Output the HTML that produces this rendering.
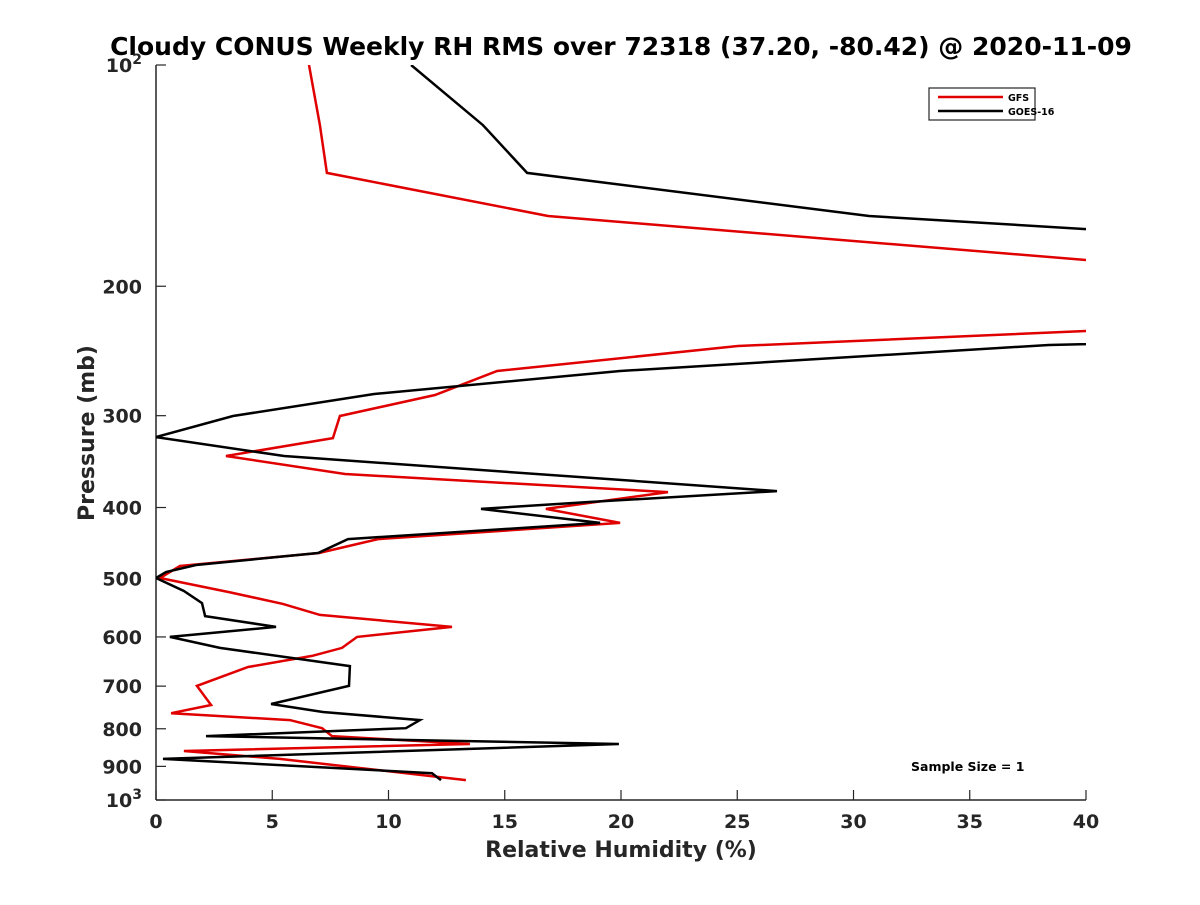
<!DOCTYPE html>
<html><head><meta charset="utf-8"><style>
body{margin:0;background:#fff;}
svg text{font-family:"DejaVu Sans","Liberation Sans",sans-serif;font-weight:bold;}
</style></head><body>
<svg id="chart" width="1200" height="900" xmlns="http://www.w3.org/2000/svg">
<defs><clipPath id="plotclip"><rect x="156" y="65" width="930" height="735"/></clipPath></defs>
<text x="621" y="55" font-size="25" text-anchor="middle" fill="#000">Cloudy CONUS Weekly RH RMS over 72318 (37.20, -80.42) @ 2020-11-09</text>
<g id="axes"></g>
<g id="series" clip-path="url(#plotclip)"></g>
<text x="621" y="857" font-size="22" text-anchor="middle" fill="#262626">Relative Humidity (%)</text>
<text transform="translate(94,433) rotate(-90)" font-size="22" text-anchor="middle" fill="#262626">Pressure (mb)</text>
<g>
<rect x="929" y="88" width="106" height="32" fill="#fff" stroke="#262626" stroke-width="1.2"/>
<line x1="938" y1="97" x2="1003" y2="97" stroke="#e00000" stroke-width="2.5"/>
<text x="1008" y="101" font-size="9.5">GFS</text>
<line x1="938" y1="111" x2="1003" y2="111" stroke="#000" stroke-width="2.5"/>
<text x="1008" y="115" font-size="9.5">GOES-16</text>
</g>
<text x="911" y="771" font-size="12.5">Sample Size = 1</text>
</svg>
<script>
const gfsRH=[6.58,7.05,7.35,16.86,40,70,40,25.03,14.67,12.0,7.91,7.61,3.01,8.13,22.02,16.77,19.96,9.55,7.01,1.03,0.17,3.14,5.46,7.05,12.73,8.65,8.0,6.71,3.96,1.76,2.37,0.65,5.76,7.14,7.57,13.5,1.2,5.33,13.33];
const gfsP=[100,120.7,140.2,160.5,184.2,205,230.1,241.2,260.8,281.2,300.3,321.8,340.4,360.1,381.1,401.8,419.8,441.6,461.2,480.4,498.9,521.3,541,560,581.5,600,621,636.8,659.2,699.5,742.6,762,778.5,798.5,818.5,839.1,857.7,879.2,939.7];
const goesRH=[10.97,14.06,15.96,30.67,40,70,40,38.4,19.96,9.38,3.31,0,5.51,26.71,18.62,13.98,19.1,8.26,6.97,1.72,0.43,0,1.2,1.98,2.11,5.16,0.6,2.75,8.34,8.3,4.95,7.18,11.35,10.75,2.15,19.91,0.3,11.87,12.26];
const goesP=[100,120.7,140.2,160.5,167.2,200,239.7,240.4,260.8,280.3,300.3,320.8,340.4,379.9,393.1,401.8,419.8,441.6,461.2,478.9,489.6,498.9,519.6,539.7,562,581.5,600,621,657.3,699.5,740.3,759.1,778.5,798.5,818.5,839.1,879.2,919.5,939.7];
const xTicks=[0,5,10,15,20,25,30,35,40];
const yTicks=[100,200,300,400,500,600,700,800,900,1000];
const yLabels=["10|2","200","300","400","500","600","700","800","900","10|3"];
const X0=156,X1=1086,Y0=65,Y1=800;
function sx(v){return X0+(v-0)/(40-0)*(X1-X0);}
function sy(p){return Y0+(Math.log10(p)-2)/1*(Y1-Y0);}
const NS="http://www.w3.org/2000/svg";
const axes=document.getElementById('axes');
function mk(t,a,parent){const e=document.createElementNS(NS,t);for(const k in a)e.setAttribute(k,a[k]);parent.appendChild(e);return e;}
let l=mk('line',{x1:X0,y1:Y0,x2:X0,y2:Y1,stroke:'#262626','stroke-width':1.5},axes);


l=mk('line',{x1:X0,y1:Y1,x2:X1,y2:Y1,stroke:'#262626','stroke-width':1.5},axes);


xTicks.forEach(v=>{
 const x=sx(v);
 mk('line',{x1:x,y1:Y1,x2:x,y2:Y1-10,stroke:'#262626','stroke-width':1.2},axes);
 const t=mk('text',{x:x,y:Y1+28,'font-size':19,'text-anchor':'middle',fill:'#262626'},axes);
 t.textContent=v;
 
 
});
yTicks.forEach((v,i)=>{
 const y=sy(v);
 mk('line',{x1:X0,y1:y,x2:X0+10,y2:y,stroke:'#262626','stroke-width':1.2},axes);
 const t=mk('text',{x:X0-14,y:y+7,'font-size':19,'text-anchor':'end',fill:'#262626'},axes);
 
 
 const parts=yLabels[i].split('|');
 if(parts.length===2){
  const a=mk('tspan',{},t);a.textContent=parts[0];
  const b=mk('tspan',{dy:-8,'font-size':14},t);b.textContent=parts[1];
 } else t.textContent=parts[0];
});
const ser=document.getElementById('series');
function line(rh,p,color,name){
 const pts=rh.map((v,i)=>sx(v).toFixed(1)+','+sy(p[i]).toFixed(1)).join(' ');
 const e=mk('polyline',{points:pts,fill:'none',stroke:color,'stroke-width':2.5,'stroke-linejoin':'miter'},ser);
 
 
}
line(gfsRH,gfsP,'#e00000','gfs-line');
line(goesRH,goesP,'#000','goes16-line');
</script>
</body></html>
